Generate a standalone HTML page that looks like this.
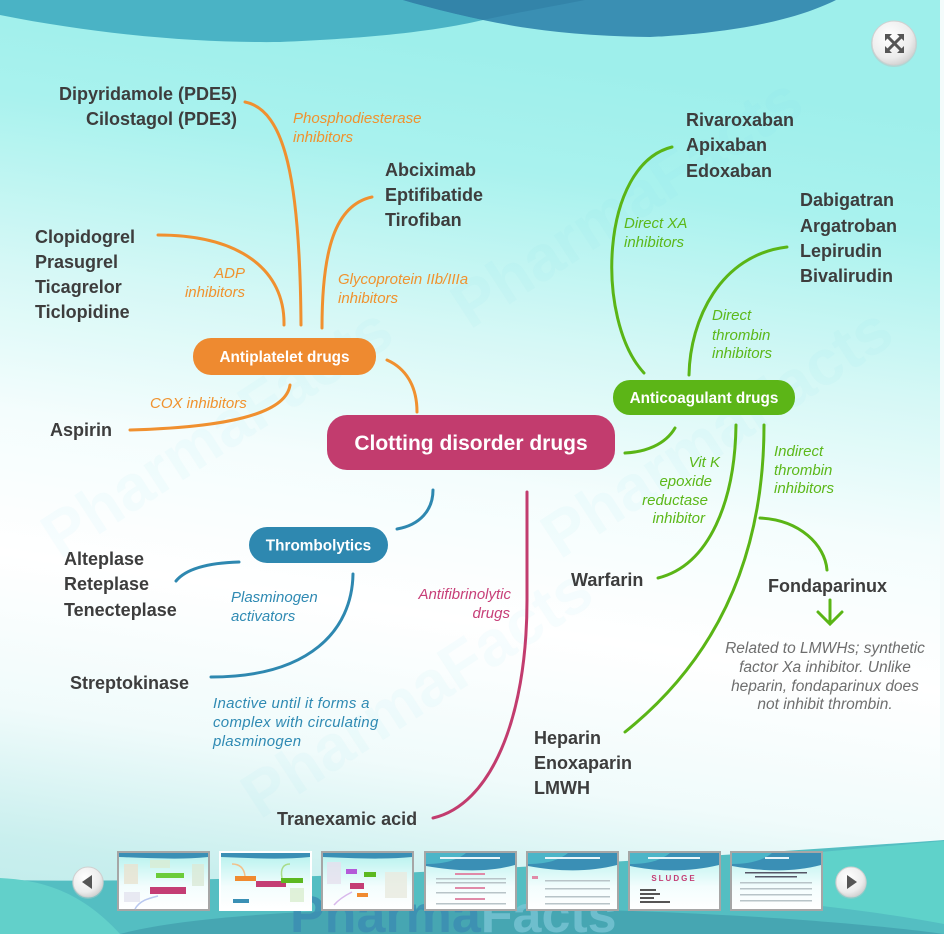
<!DOCTYPE html>
<html><head><meta charset="utf-8">
<style>
html,body{margin:0;padding:0;width:944px;height:934px;overflow:hidden;background:#fff}
svg{display:block}
</style></head><body>
<svg width="944" height="934" viewBox="0 0 944 934" xmlns="http://www.w3.org/2000/svg" font-family="'Liberation Sans', sans-serif">
<defs>
<linearGradient id="bg" x1="0.15" y1="0" x2="0" y2="1">
 <stop offset="0" stop-color="#9eefeb"/>
 <stop offset="0.12" stop-color="#a9f2ee"/>
 <stop offset="0.3" stop-color="#d6f8f6"/>
 <stop offset="0.45" stop-color="#f4fdfd"/>
 <stop offset="0.6" stop-color="#ffffff"/>
 <stop offset="0.76" stop-color="#f0fbfb"/>
 <stop offset="0.9" stop-color="#c9efee"/>
 <stop offset="1" stop-color="#bdeaea"/>
</linearGradient>
<radialGradient id="btn" cx="0.4" cy="0.35" r="0.7">
 <stop offset="0" stop-color="#ffffff"/>
 <stop offset="0.7" stop-color="#ececec"/>
 <stop offset="1" stop-color="#cfcfcf"/>
</radialGradient>
<linearGradient id="tb" x1="0" y1="0" x2="0" y2="1">
 <stop offset="0" stop-color="#b5f2ee"/>
 <stop offset="0.6" stop-color="#f3fdfd"/>
 <stop offset="1" stop-color="#ffffff"/>
</linearGradient>
</defs>

<!-- background -->
<rect x="0" y="0" width="944" height="934" fill="url(#bg)"/>

<!-- top waves -->
<path d="M0,0 L0,15 C100,35 200,43 280,42 C380,38 440,30 483,20 C520,12 560,5 585,0 Z" fill="#4ab3c5"/>
<path d="M403,0 C430,8 460,15 483,20 C530,30 580,36 650,37 C740,33 800,18 836,0 Z" fill="#3a8fb3"/>
<path d="M403,0 C430,8 460,15 483,20 C520,12 560,5 585,0 Z" fill="#3384a9"/>

<!-- faint watermarks -->
<g font-weight="bold" font-size="64" fill="#7fd0e0" opacity="0.06">
 <text x="60" y="560" transform="rotate(-33 60 560)">PharmaFacts</text>
 <text x="260" y="820" transform="rotate(-33 260 820)">PharmaFacts</text>
 <text x="470" y="330" transform="rotate(-33 470 330)">PharmaFacts</text>
 <text x="560" y="560" transform="rotate(-33 560 560)">PharmaFacts</text>
</g>

<!-- right white strip -->
<rect x="940" y="0" width="4" height="840" fill="#f4fbfb"/>

<!-- bottom waves -->
<path d="M0,880 C250,884 550,868 944,840 L944,934 L0,934 Z" fill="#54bec2"/>
<path d="M0,878 C40,880 80,890 120,934 L0,934 Z" fill="#62d0ca"/>
<path d="M760,858 C840,850 900,845 944,841 L944,924 C880,912 810,904 760,900 Z" fill="#5fd2ca"/>
<path d="M120,934 C200,912 400,904 600,910 C750,914 880,925 944,934 Z" fill="#46a6b2"/>
<text x="290" y="932" font-size="52" font-weight="bold" fill="#3a8bb2" opacity="0.75">Pharma<tspan fill="#7cc6d6">Facts</tspan></text>

<!-- fullscreen button -->
<circle cx="894" cy="44" r="23" fill="#bfbfbf" opacity="0.5"/>
<circle cx="894" cy="43" r="22" fill="url(#btn)" stroke="#d0d0d0" stroke-width="1"/>
<g stroke="#555" stroke-width="3" fill="#555">
 <line x1="888" y1="37" x2="901" y2="50"/>
 <line x1="901" y1="37" x2="888" y2="50"/>
 <path d="M885,34 L892,34 L885,41 Z" stroke="none"/>
 <path d="M904,34 L897,34 L904,41 Z" stroke="none"/>
 <path d="M885,53 L892,53 L885,46 Z" stroke="none"/>
 <path d="M904,53 L897,53 L904,46 Z" stroke="none"/>
</g>

<!-- ========== connectors ========== -->
<g fill="none" stroke-width="3" stroke-linecap="round">
 <g stroke="#f0902f">
  <path d="M245,102 C285,110 300,180 301,325"/>
  <path d="M158,235 C240,235 285,270 284,325"/>
  <path d="M372,197 C335,205 322,250 322,328"/>
  <path d="M290,385 C285,420 200,428 130,430"/>
  <path d="M387,360 C405,368 417,385 417,412"/>
 </g>
 <g stroke="#5ab516">
  <path d="M672,147 C600,165 595,320 644,373"/>
  <path d="M787,247 C720,255 690,320 689,375"/>
  <path d="M675,428 C665,445 645,452 625,453"/>
  <path d="M736,425 C735,500 710,565 658,578"/>
  <path d="M764,425 C764,520 740,640 625,732"/>
  <path d="M760,518 C800,520 825,545 827,570"/>
  <path d="M830,600 L830,623"/>
  <path d="M818,612 L830,624 L842,612"/>
 </g>
 <g stroke="#2e88b0">
  <path d="M433,490 C433,510 420,525 397,529"/>
  <path d="M239,562 C205,563 185,570 176,581"/>
  <path d="M353,574 C352,630 310,677 211,677"/>
 </g>
 <path stroke="#c23c6e" d="M527,492 L527,600 C527,720 490,805 433,818"/>
</g>

<!-- ========== nodes ========== -->
<rect x="327" y="415" width="288" height="55" rx="20" fill="#c23c6e"/>
<text x="471" y="450" font-size="21" font-weight="bold" fill="#fff" text-anchor="middle">Clotting disorder drugs</text>

<rect x="193" y="338" width="183" height="37" rx="18" fill="#ee8a30"/>
<text x="284.5" y="362" font-size="15.3" font-weight="bold" fill="#fff" text-anchor="middle">Antiplatelet drugs</text>

<rect x="613" y="380" width="182" height="35" rx="17" fill="#5cb517"/>
<text x="704" y="403" font-size="15.3" font-weight="bold" fill="#fff" text-anchor="middle">Anticoagulant drugs</text>

<rect x="249" y="527" width="139" height="36" rx="18" fill="#2e88b0"/>
<text x="318.5" y="550.5" font-size="15.3" font-weight="bold" fill="#fff" text-anchor="middle">Thrombolytics</text>

<!-- ========== drug labels ========== -->
<g font-size="18" font-weight="bold" fill="#3d3d3d">
 <text x="237" y="100" text-anchor="end">Dipyridamole (PDE5)</text>
 <text x="237" y="125" text-anchor="end">Cilostagol (PDE3)</text>
 <text x="35" y="243">Clopidogrel</text>
 <text x="35" y="268">Prasugrel</text>
 <text x="35" y="293">Ticagrelor</text>
 <text x="35" y="318">Ticlopidine</text>
 <text x="50" y="436">Aspirin</text>
 <text x="385" y="176">Abciximab</text>
 <text x="385" y="201">Eptifibatide</text>
 <text x="385" y="226">Tirofiban</text>
 <text x="686" y="126">Rivaroxaban</text>
 <text x="686" y="151">Apixaban</text>
 <text x="686" y="177">Edoxaban</text>
 <text x="800" y="206">Dabigatran</text>
 <text x="800" y="232">Argatroban</text>
 <text x="800" y="257">Lepirudin</text>
 <text x="800" y="282">Bivalirudin</text>
 <text x="571" y="586">Warfarin</text>
 <text x="768" y="592">Fondaparinux</text>
 <text x="534" y="744">Heparin</text>
 <text x="534" y="769">Enoxaparin</text>
 <text x="534" y="794">LMWH</text>
 <text x="64" y="565">Alteplase</text>
 <text x="64" y="590">Reteplase</text>
 <text x="64" y="616">Tenecteplase</text>
 <text x="70" y="689">Streptokinase</text>
 <text x="277" y="825">Tranexamic acid</text>
</g>

<!-- ========== italic class labels ========== -->
<g font-size="15" font-style="italic">
 <g fill="#f0922e">
  <text x="293" y="123">Phosphodiesterase</text>
  <text x="293" y="142">inhibitors</text>
  <text x="245" y="278" text-anchor="end">ADP</text>
  <text x="245" y="297" text-anchor="end">inhibitors</text>
  <text x="338" y="284">Glycoprotein IIb/IIIa</text>
  <text x="338" y="303">inhibitors</text>
  <text x="150" y="408">COX inhibitors</text>
 </g>
 <g fill="#5cb81a">
  <text x="624" y="228">Direct XA</text>
  <text x="624" y="247">inhibitors</text>
  <text x="712" y="320">Direct</text>
  <text x="712" y="340">thrombin</text>
  <text x="712" y="358">inhibitors</text>
  <text x="720" y="467" text-anchor="end">Vit K</text>
  <text x="712" y="486" text-anchor="end">epoxide</text>
  <text x="708" y="505" text-anchor="end">reductase</text>
  <text x="705" y="523" text-anchor="end">inhibitor</text>
  <text x="774" y="456">Indirect</text>
  <text x="774" y="475">thrombin</text>
  <text x="774" y="493">inhibitors</text>
 </g>
 <g fill="#2f8ab3">
  <text x="231" y="602">Plasminogen</text>
  <text x="231" y="621">activators</text>
  <text x="213" y="708" letter-spacing="0.3">Inactive until it forms a</text>
  <text x="213" y="727" letter-spacing="0.3">complex with circulating</text>
  <text x="213" y="746" letter-spacing="0.3">plasminogen</text>
 </g>
 <g fill="#c73f78">
  <text x="511" y="599" text-anchor="end">Antifibrinolytic</text>
  <text x="510" y="618" text-anchor="end">drugs</text>
 </g>
 <g fill="#6e6e6e" text-anchor="middle" font-size="15.5">
  <text x="825" y="653">Related to LMWHs; synthetic</text>
  <text x="825" y="672">factor Xa inhibitor. Unlike</text>
  <text x="825" y="691">heparin, fondaparinux does</text>
  <text x="825" y="709">not inhibit thrombin.</text>
 </g>
</g>

<!-- ========== bottom navigation ========== -->
<circle cx="88" cy="883" r="16" fill="#a8c8c8" opacity="0.5"/>
<circle cx="88" cy="882" r="15" fill="url(#btn)" stroke="#d0d0d0"/>
<path d="M82,882 L92,875 L92,889 Z" fill="#555"/>
<circle cx="851" cy="883" r="16" fill="#a8c8c8" opacity="0.5"/>
<circle cx="851" cy="882" r="15" fill="url(#btn)" stroke="#d0d0d0"/>
<path d="M857,882 L847,875 L847,889 Z" fill="#555"/>

<g>
 <rect x="117" y="851" width="93" height="60" fill="#a6a6a6"/>
 <rect x="119" y="853" width="89" height="56" fill="url(#tb)"/>
 <path d="M119,853 h89 v4 C180,860 150,858 119,857 Z" fill="#3a8fb5"/>
 <rect x="124" y="864" width="14" height="20" fill="#e9e2d0" opacity="0.8"/>
 <rect x="150" y="860" width="20" height="8" fill="#d9ecd3" opacity="0.8"/>
 <rect x="192" y="864" width="12" height="22" fill="#dbe9d6" opacity="0.8"/>
 <rect x="156" y="873" width="28" height="5" fill="#6ccc3a"/>
 <rect x="150" y="887" width="36" height="7" fill="#c43d74"/>
 <rect x="124" y="892" width="16" height="10" fill="#e4e4ef" opacity="0.8"/>
 <path d="M135,909 C140,900 150,898 158,896" stroke="#b9c8ef" stroke-width="1.5" fill="none"/>

 <rect x="219" y="851" width="93" height="60" fill="#ffffff"/>
 <rect x="221" y="853" width="89" height="56" fill="url(#tb)"/>
 <path d="M221,853 h89 v4 C280,860 250,858 221,857 Z" fill="#3a8fb5"/>
 <path d="M245,876 C244,868 240,864 232,864" stroke="#f3c08a" stroke-width="1.5" fill="none"/>
 <path d="M282,878 C280,868 284,864 290,864" stroke="#a8dc88" stroke-width="1.5" fill="none"/>
 <rect x="235" y="876" width="21" height="5" fill="#f08a30"/>
 <rect x="256" y="881" width="30" height="6" fill="#c43d74"/>
 <rect x="281" y="878" width="22" height="5" fill="#5cb820"/>
 <rect x="233" y="899" width="16" height="4" fill="#3a90b5"/>
 <rect x="290" y="888" width="14" height="14" fill="#d9eed0" opacity="0.8"/>

 <rect x="321" y="851" width="93" height="60" fill="#a6a6a6"/>
 <rect x="323" y="853" width="89" height="56" fill="url(#tb)"/>
 <path d="M323,853 h89 v4 C380,860 350,858 323,857 Z" fill="#3a8fb5"/>
 <rect x="327" y="862" width="14" height="22" fill="#e6e0ee" opacity="0.8"/>
 <rect x="346" y="869" width="11" height="5" fill="#b45ad8"/>
 <rect x="364" y="872" width="12" height="5" fill="#5cb820"/>
 <rect x="350" y="883" width="14" height="6" fill="#c43d74"/>
 <rect x="357" y="893" width="11" height="4" fill="#f08a30"/>
 <rect x="385" y="872" width="22" height="26" fill="#e8eadf" opacity="0.8"/>
 <path d="M334,905 C340,898 348,894 352,892" stroke="#d8b8ec" stroke-width="1.5" fill="none"/>

 <g>
  <rect x="424" y="851" width="93" height="60" fill="#a6a6a6"/>
  <rect x="426" y="853" width="89" height="56" fill="url(#tb)"/>
  <path d="M426,853 h89 v12 C490,872 460,872 426,866 Z" fill="#3a8fb5"/>
  <path d="M426,853 h40 C455,862 440,864 426,864 Z" fill="#4cb5c8"/>
  <rect x="440" y="857" width="60" height="2" fill="#e8f6fa"/>
  <rect x="455" y="873" width="30" height="2" fill="#e08aa8"/>
  <rect x="436" y="878" width="70" height="1.5" fill="#b8c4c8"/>
  <rect x="436" y="882" width="70" height="1.5" fill="#b8c4c8"/>
  <rect x="455" y="887" width="30" height="2" fill="#e08aa8"/>
  <rect x="436" y="892" width="70" height="1.5" fill="#b8c4c8"/>
  <rect x="455" y="898" width="30" height="2" fill="#e08aa8"/>
  <rect x="436" y="903" width="70" height="1.5" fill="#b8c4c8"/>
 </g>
 <g>
  <rect x="526" y="851" width="93" height="60" fill="#a6a6a6"/>
  <rect x="528" y="853" width="89" height="56" fill="url(#tb)"/>
  <path d="M528,853 h89 v12 C590,872 560,872 528,866 Z" fill="#3a8fb5"/>
  <path d="M528,853 h40 C557,862 542,864 528,864 Z" fill="#4cb5c8"/>
  <rect x="545" y="857" width="55" height="2" fill="#e8f6fa"/>
  <rect x="532" y="876" width="6" height="3" fill="#e08aa8"/>
  <rect x="545" y="880" width="65" height="1.5" fill="#b8c4c8"/>
  <rect x="545" y="888" width="65" height="1.5" fill="#b8c4c8"/>
  <rect x="545" y="896" width="65" height="1.5" fill="#b8c4c8"/>
  <rect x="545" y="903" width="65" height="1.5" fill="#b8c4c8"/>
 </g>
 <g>
  <rect x="628" y="851" width="93" height="60" fill="#a6a6a6"/>
  <rect x="630" y="853" width="89" height="56" fill="url(#tb)"/>
  <path d="M630,853 h89 v12 C690,872 660,872 630,866 Z" fill="#3a8fb5"/>
  <path d="M630,853 h40 C659,862 644,864 630,864 Z" fill="#4cb5c8"/>
  <rect x="648" y="857" width="52" height="2" fill="#e8f6fa"/>
  <text x="674" y="881" font-size="8" font-weight="bold" fill="#c43d74" text-anchor="middle" letter-spacing="2">SLUDGE</text>
  <rect x="640" y="889" width="16" height="2" fill="#555"/>
  <rect x="640" y="893" width="20" height="2" fill="#555"/>
  <rect x="640" y="897" width="14" height="2" fill="#555"/>
  <rect x="640" y="901" width="30" height="2" fill="#555"/>
 </g>
 <g>
  <rect x="730" y="851" width="93" height="60" fill="#a6a6a6"/>
  <rect x="732" y="853" width="89" height="56" fill="url(#tb)"/>
  <path d="M732,853 h89 v12 C795,872 765,872 732,866 Z" fill="#3a8fb5"/>
  <path d="M732,853 h40 C761,862 746,864 732,864 Z" fill="#4cb5c8"/>
  <rect x="765" y="857" width="24" height="2" fill="#e8f6fa"/>
  <rect x="745" y="872" width="62" height="1.5" fill="#556"/>
  <rect x="755" y="876" width="42" height="1.5" fill="#556"/>
  <rect x="740" y="882" width="72" height="1.5" fill="#b8c4c8"/>
  <rect x="740" y="888" width="72" height="1.5" fill="#b8c4c8"/>
  <rect x="740" y="894" width="72" height="1.5" fill="#b8c4c8"/>
  <rect x="740" y="900" width="72" height="1.5" fill="#b8c4c8"/>
 </g>
</g>
</svg>
</body></html>
